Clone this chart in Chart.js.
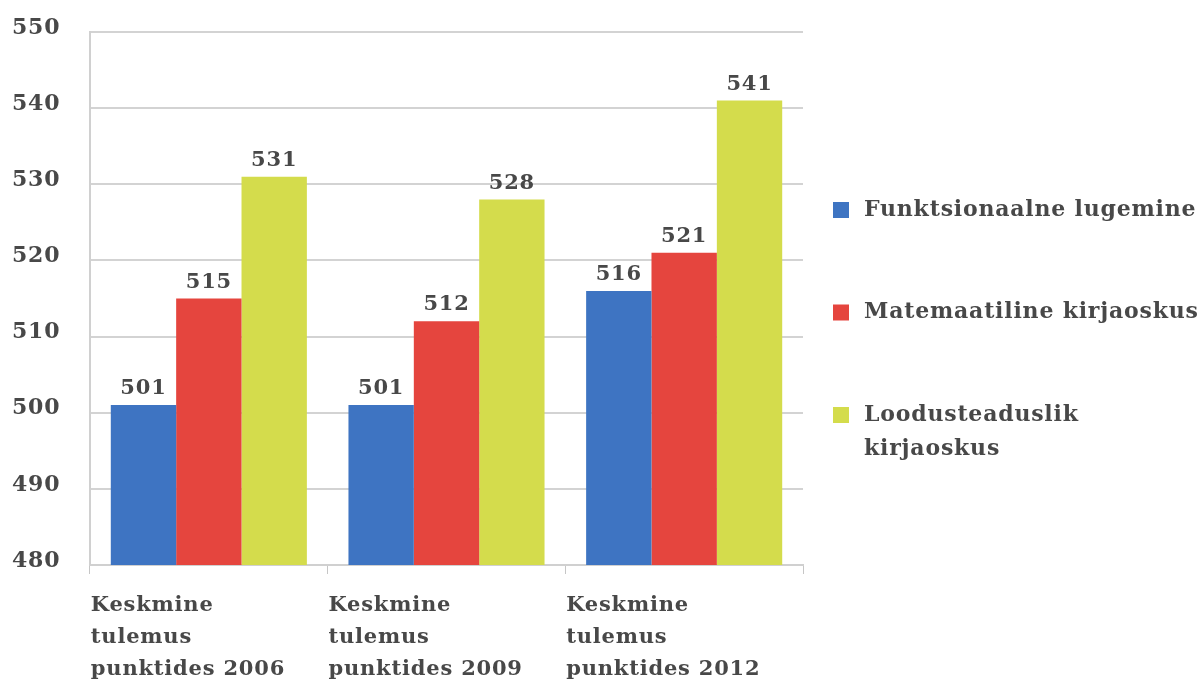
<!DOCTYPE html>
<html>
<head>
<meta charset="utf-8">
<script src="https://cdn.jsdelivr.net/npm/chart.js@4"></script>
<style>
  html, body { margin: 0; padding: 0; background: #ffffff; }
  #c { display: block; }
</style>
</head>
<body>
<canvas id="c" width="1200" height="686"></canvas>
<script>
// ---- data ----
const categories = [
  ['Keskmine', 'tulemus', 'punktides 2006'],
  ['Keskmine', 'tulemus', 'punktides 2009'],
  ['Keskmine', 'tulemus', 'punktides 2012']
];
const seriesNames = ['Funktsionaalne lugemine', 'Matemaatiline kirjaoskus', 'Loodusteaduslik kirjaoskus'];
const lugemine = [501, 501, 516];
const matemaatika = [515, 512, 521];
const loodusteadus = [531, 528, 541];
const yTicks = [480, 490, 500, 510, 520, 530, 540, 550];

// ---- styles ----
const FONT = '"DejaVu Serif", "Liberation Serif", serif';
const TEXT = '#484848';
const LS = '0.8px';
const seriesColors = ['#3e74c2', '#e5453e', '#d4dc4c'];

const spacing = {
  id: 'spacing',
  beforeUpdate(chart) { chart.ctx.letterSpacing = LS; },
  beforeDraw(chart) { chart.ctx.letterSpacing = LS; }
};

const valueLabels = {
  id: 'valueLabels',
  afterDatasetsDraw(chart) {
    const ctx = chart.ctx;
    ctx.save();
    ctx.font = 'bold 21px ' + FONT;
    ctx.fillStyle = TEXT;
    ctx.textAlign = 'center';
    ctx.textBaseline = 'alphabetic';
    chart.data.datasets.forEach((ds, i) => {
      chart.getDatasetMeta(i).data.forEach((el, j) => {
        ctx.fillText(String(ds.data[j]), el.x, el.y - 11);
      });
    });
    ctx.restore();
  }
};

function wrapWords(ctx, text, maxW) {
  const words = text.split(' ');
  const lines = [];
  let cur = '';
  words.forEach(w => {
    const t = cur ? cur + ' ' + w : w;
    if (cur && ctx.measureText(t).width > maxW) { lines.push(cur); cur = w; }
    else cur = t;
  });
  if (cur) lines.push(cur);
  return lines;
}

const sideLegend = {
  id: 'sideLegend',
  afterDraw(chart) {
    const { ctx, chartArea } = chart;
    const boxX = chartArea.right + 30;
    const box = 16;
    const textX = boxX + box + 15;
    const lineH = 34;
    const pitch = 102.5;
    let y = chartArea.top + 178;
    ctx.save();
    ctx.font = 'bold 22px ' + FONT;
    ctx.textAlign = 'left';
    ctx.textBaseline = 'middle';
    chart.data.datasets.forEach((ds) => {
      ctx.fillStyle = ds.backgroundColor;
      ctx.fillRect(boxX, y - box / 2, box, box);
      ctx.fillStyle = TEXT;
      const lines = wrapWords(ctx, ds.label, chart.width - textX + 4);
      lines.forEach((ln, k) => ctx.fillText(ln, textX, y + k * lineH));
      y += pitch;
    });
    ctx.restore();
  }
};

new Chart(document.getElementById('c'), {
  type: 'bar',
  data: {
    labels: categories,
    datasets: [
      { label: seriesNames[0], data: lugemine, backgroundColor: seriesColors[0] },
      { label: seriesNames[1], data: matemaatika, backgroundColor: seriesColors[1] },
      { label: seriesNames[2], data: loodusteadus, backgroundColor: seriesColors[2] }
    ]
  },
  options: {
    responsive: false,
    animation: false,
    layout: { padding: { top: 32, left: 12, right: 397, bottom: 0 } },
    datasets: { bar: { categoryPercentage: 0.825, barPercentage: 1.0, borderWidth: 0 } },
    plugins: {
      legend: { display: false },
      tooltip: { enabled: false }
    },
    scales: {
      x: {
        offset: true,
        grid: { offset: true, drawOnChartArea: false, drawTicks: true, tickLength: 9, color: '#c6c6c6', lineWidth: 1 },
        border: { display: true, color: '#d0d0d0', width: 2 },
        ticks: {
          align: 'start', labelOffset: -118, padding: 15, maxRotation: 0, autoSkip: false,
          color: TEXT, font: { family: FONT, size: 21, weight: 'bold', lineHeight: 1.53 }
        },
        afterFit(s) { s.height = 121; }
      },
      y: {
        min: 480, max: 550,
        afterBuildTicks(s) { s.ticks = yTicks.map(v => ({ value: v })); },
        grid: { drawTicks: false, color: '#d3d3d3', lineWidth: 2 },
        border: { display: true, color: '#d0d0d0', width: 2 },
        ticks: { crossAlign: 'far', labelOffset: -4, color: TEXT, font: { family: FONT, size: 22, weight: 'bold' } },
        afterFit(s) { s.width = 78; }
      }
    }
  },
  plugins: [spacing, valueLabels, sideLegend]
});
</script>
</body>
</html>
